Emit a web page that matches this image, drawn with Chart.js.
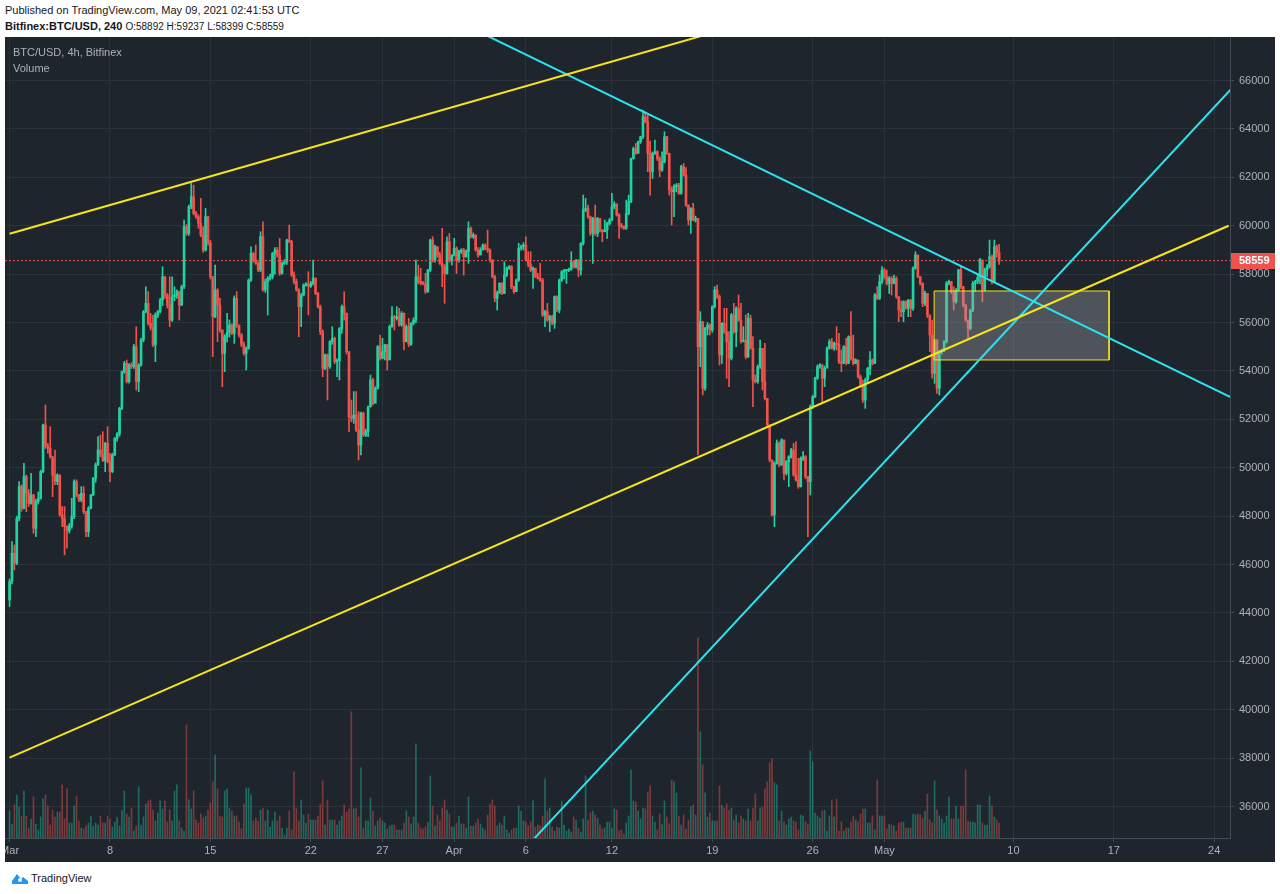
<!DOCTYPE html>
<html>
<head>
<meta charset="utf-8">
<title>BTC/USD 4h</title>
<script src="https://cdn.jsdelivr.net/npm/chart.js@4.4.0/dist/chart.umd.min.js"></script>
<style>
	html, body { margin: 0; padding: 0; background: #fff; }
	body { width: 1280px; height: 894px; position: relative; overflow: hidden; font-family: "Liberation Sans", Arial, sans-serif; color: #131722; }
	.hdr { position: absolute; left: 5px; font-size: 11px; line-height: 14px; white-space: nowrap; }
	.hdr--1 { top: 3px; }
	.hdr--2 { top: 19px; }
	.hdr--2 span { font-size: 10px; }
	.panel { position: absolute; left: 5px; top: 37px; width: 1270px; height: 825px; background: #1e252d; }
	.panel canvas { position: absolute; left: 0; top: 0; }
	.legend { position: absolute; left: 8px; top: 7px; font-size: 11px; line-height: 16px; color: #aeb1b9; pointer-events: none; }
	.footer { position: absolute; left: 12px; top: 870px; font-size: 11px; line-height: 16px; display: flex; align-items: center; }
	.footer svg { margin-right: 3px; }
</style>
</head>
<body>
<div class="hdr hdr--1">Published on TradingView.com, May 09, 2021 02:41:53 UTC</div>
<div class="hdr hdr--2"><b>Bitfinex:BTC/USD, 240</b> <span>O:58892 H:59237 L:58399 C:58559</span></div>
<div class="panel">
	<canvas id="chart__btc" width="1270" height="825"></canvas>
	<div class="legend">BTC/USD, 4h, Bitfinex<br>Volume</div>
</div>
<div class="footer">
	<svg width="16" height="12" viewBox="0 0 16 12"><path d="M0 9 L5 2 L9 7 L11 5 L16 9 L16 12 L0 12 Z" fill="#2196f3"/><circle cx="8" cy="8" r="2" fill="#fff"/></svg>
	<span>TradingView</span>
</div>
<script>
// 4h candles, Bitfinex BTC/USD, first bar Mar 01 00:00 UTC, last bar May 09 00:00 UTC
const firstOpen = 44537;
const closes = [
	45295,46465,46052,47910,49219,48324,49633,48944,48530,48875,
	47498,48600,48737,49839,51767,50872,50800,50458,49701,49426,
	49701,48049,47900,47567,47400,47600,47980,49426,48875,48668,
	48944,48186,47360,48324,48875,49564,50114,50734,50527,50300,
	51009,50252,49839,50527,51216,51400,52455,53971,54315,53557,
	54246,54177,55003,53557,54246,55279,56449,56793,55967,55800,
	55072,56311,56449,56930,57894,57137,56724,56104,57068,57137,
	57275,56724,57481,59960,59685,60786,61199,60510,60373,60100,
	59616,58996,60373,59300,57894,56242,57344,56724,55691,54727,
	55415,55600,55898,55553,57000,55898,55485,55100,54727,54934,
	57757,58858,58582,58445,58170,59547,57344,57688,57826,57900,
	58858,58996,58790,58032,58445,58514,59409,59340,57963,57700,
	57344,56655,57137,57550,57600,57500,57619,57826,57206,56655,
	55622,54108,54658,54177,55209,55350,54383,54420,55760,56655,
	56380,54796,52111,52042,52180,51560,50940,52249,51353,51500,
	52524,53626,52662,53282,55003,54521,54796,55072,54452,55829,
	56242,56173,56242,55898,56380,55209,55829,55100,55967,56100,
	57894,57688,57619,57600,57275,58170,59409,58582,59134,58790,
	58445,58300,58032,59340,58582,58790,59065,58582,58927,58996,
	58721,58927,59891,59547,59616,58996,58790,59000,59203,59065,
	58996,58582,57894,57000,57206,57619,57206,57963,58239,58308,
	57481,57275,57756,59064,59133,59202,58582,58400,58169,58238,
	57894,57825,57756,56310,56448,56104,56241,55966,57068,56517,
	57756,58100,58150,58169,58200,58513,58300,58582,58169,59271,
	60648,60717,60372,59684,60304,59684,60304,59821,59753,59821,
	60097,60235,60786,60900,60441,60028,59959,59890,60510,60992,
	62782,63195,62989,63471,63677,64503,64297,62989,62231,62989,
	63058,62782,62300,62644,63677,62989,61474,61404,61612,61681,
	61336,62438,62095,60855,60235,60718,60235,60304,55004,56036,
	53282,55761,55900,55692,56656,57345,57069,54659,55968,55623,
	55210,54522,56312,55623,56587,56105,55210,55279,54590,56174,
	54935,53627,53558,54177,54935,53558,52869,51768,50322,48050,
	50184,51010,50115,51148,49771,50253,50460,50735,49702,49496,
	49220,50391,50460,49633,49427,52525,52938,53696,54177,54250,
	53696,54109,54935,55210,54935,55141,55100,54384,54315,55003,
	54315,55416,54521,54315,54453,53764,53420,52800,53627,54109,
	54453,54315,57138,57000,57689,58171,57900,57620,57826,57620,
	57826,57069,56518,56449,56862,56587,56931,56587,58239,58790,
	57895,57620,56794,57207,56312,55485,53900,55279,53282,54797,
	54866,55210,57620,57689,57276,56862,57344,58171,57482,56725,
	56105,55761,56518,57620,57700,57850,58584,57344,58171,58308,
	58721,57689,59134,58892,58559
];
const highs = [
	45400,46945,46808,48000,49426,49300,50183,49700,49100,49770,
	48900,48700,49000,49900,51800,52593,51000,51698,50458,50734,
	49750,49700,48400,48392,47600,47700,48737,49500,49500,48900,
	49219,49219,48200,48400,48900,49600,50200,51285,51353,51491,
	51050,51698,50600,50600,51250,51450,52500,54000,54400,54452,
	54300,54350,55100,55829,54300,55350,56500,57481,57275,56380,
	56311,56400,56500,57000,58308,57900,57206,57894,57894,57481,
	57350,57300,57550,60235,60050,60855,61750,61681,60600,60450,
	61130,59960,60717,60400,59400,57900,58376,57400,57000,55700,
	55500,56380,56104,55950,57100,57275,55900,55550,55200,55000,
	57800,59134,58900,59203,58500,59753,60167,57800,57900,58000,
	58900,59100,59100,59478,58500,58600,59450,60029,59400,58100,
	57800,57400,57200,57600,57650,58101,57700,58582,57850,57250,
	56724,55700,54700,54700,55250,55829,55400,54500,55800,56724,
	57275,56400,54800,52800,53144,53144,52318,52300,52300,51600,
	52550,53832,53700,53350,55050,55485,55347,55100,55100,55900,
	56655,56300,56655,56586,56450,56400,55900,56173,56000,56200,
	58582,58376,58239,57700,58032,58200,59450,59547,59200,59150,
	58900,59891,58400,59547,59685,58800,59478,59134,58996,59050,
	59065,59000,60167,59950,59700,59620,59100,59100,59250,59250,
	59822,59050,58600,57950,57300,57650,57650,58514,58300,58350,
	58350,57500,57800,59271,59200,59300,59546,58927,58927,58300,
	58250,58032,58445,57825,56500,56792,56300,56300,57100,57100,
	57800,58150,58200,58200,58250,58927,58550,58600,58600,59300,
	61267,61130,60854,60400,60350,60854,60350,59959,59850,60235,
	60150,60300,61336,61000,60900,60500,60100,60000,61061,61267,
	62800,63250,63402,63500,63700,64779,64710,64572,63500,63050,
	63540,63100,62850,63058,63884,63700,63000,61612,61700,61750,
	61749,62500,62576,62400,60855,60750,60925,60400,60304,56450,
	56036,55800,56000,55950,56700,57482,57551,57138,56000,56587,
	56587,55623,56381,56794,56650,57138,56794,55830,56312,56381,
	56312,55417,53833,54250,55279,54797,55141,52869,51768,50322,
	50250,51148,51079,51200,51148,50300,50500,50804,51010,51079,
	50391,50450,50666,50500,49650,52600,53000,53750,54250,54300,
	54250,54200,55000,55300,55348,55200,55830,55554,54866,55050,
	55348,55450,56449,55485,54500,54453,53833,53627,53700,54150,
	54797,54500,57200,57482,57964,58308,58250,58171,57900,57900,
	57964,57895,57069,56900,56900,56900,56950,56950,58300,58928,
	58790,57900,57650,57300,57207,56312,56105,55300,55300,54850,
	54900,55250,57700,57750,57700,57482,57400,58200,58308,57500,
	56750,56105,56550,57700,57750,57950,58650,58584,58250,58400,
	59410,58790,59410,59200,59237
];
const lows = [
	44262,45200,45775,46000,47800,48200,48300,48186,48400,48500,
	47292,47154,48500,48700,49800,50800,50600,50400,48806,49300,
	49300,48000,47567,46397,46672,47300,47500,47900,48800,48600,
	48600,48100,47154,47154,48300,48850,49400,50100,50450,50250,
	49839,50200,49426,49800,50500,51100,51300,52400,53900,53500,
	53500,54100,54100,53213,53144,54200,55200,56400,55900,55700,
	55000,54384,56200,56400,56700,57000,56600,55829,56050,56900,
	57000,56104,56700,57400,59600,59600,60700,60450,60300,59900,
	59550,58900,58950,59200,57800,54590,56200,55209,55600,53350,
	53970,55200,55400,55500,55140,55800,55400,55000,54650,54039,
	54900,57700,58500,58400,58100,58100,57300,57250,56311,57750,
	57800,58000,58700,57950,58000,58400,58400,59300,57900,57600,
	57300,55415,55829,57100,57500,56311,57450,57550,57150,56600,
	55500,53763,54050,52800,54100,55100,54300,53763,53626,55553,
	56104,54700,51491,51900,51835,51500,50321,50527,51300,51285,
	51285,52500,52600,52937,53250,54450,54500,54452,54039,54950,
	55800,55691,56100,55850,55850,54865,55200,55003,55050,55900,
	56000,57600,57550,57550,57200,57250,58100,58500,58500,58700,
	58400,57481,56793,58000,58500,58376,58750,58032,58500,58850,
	57963,58700,58445,59500,59478,58950,58700,58800,59000,59000,
	58900,58500,57850,56862,56518,57550,57150,57200,57900,58200,
	57400,57200,57274,57700,58995,58995,58550,58300,58100,57412,
	57850,57800,57700,56241,55828,56050,55622,55900,55759,56450,
	56400,57700,57800,57619,58100,58150,58250,58250,57894,57963,
	59200,60579,60300,59600,58445,59600,59546,59750,59340,59750,
	59477,60028,60200,60700,60400,59477,59900,59850,59850,60450,
	60950,62750,62950,63150,63400,63600,64250,62231,61267,61956,
	62950,62700,62025,62250,62600,62950,61267,60028,60372,61400,
	61300,61300,62050,60800,60028,59685,60200,60150,50528,54177,
	53007,53200,55486,55486,55600,56600,57000,54246,54315,55550,
	53696,53351,54453,55550,55004,56050,55150,55200,54500,54550,
	54900,52525,53500,53489,54100,53214,52800,51700,50250,48000,
	47568,50150,50050,50100,49496,49700,49220,50400,49650,49450,
	49150,49200,50300,49550,47155,48876,52450,52900,53650,54109,
	52732,53351,54246,54900,54900,54850,54866,54300,53971,54300,
	54250,54300,54450,54250,54300,53700,53350,52700,52456,53489,
	53833,54250,54300,56950,56950,57600,57800,57550,57207,57138,
	57600,57000,56036,56243,56036,56550,56243,56243,56500,58200,
	57850,57550,56656,56700,56200,54797,53700,53489,53076,53007,
	54700,54800,55150,57550,57200,56518,56800,57300,57400,56650,
	56050,55348,55700,56450,57276,57600,57600,56862,57300,57895,
	58250,57600,57650,58700,58399
];
const volumes = [
	1350,700,1650,2150,1550,1100,2350,1100,500,
	950,2050,700,400,1050,1950,2150,1600,650,1400,
	1050,1300,1300,2650,950,2450,750,750,1600,2100,
	850,500,450,600,750,1100,600,750,650,1100,
	750,750,1100,950,550,800,1050,600,1400,2350,
	1200,1050,1500,350,600,2550,650,1050,1700,1850,
	1900,1400,850,1250,1850,1450,1850,800,1400,850,
	2350,2650,850,500,350,5650,1900,1450,2350,900,
	750,1200,1000,1100,1400,1750,2800,4150,2450,1100,
	1050,2350,2450,1500,1350,1100,1100,800,450,1700,
	2500,2500,2150,850,1000,850,1400,1500,850,1400,
	550,850,1300,850,1100,500,150,500,1350,400,
	3300,1500,850,1900,1150,750,1200,900,900,900,
	1100,1700,2850,650,1900,900,900,900,650,850,
	1100,1650,1300,1450,6300,1450,1500,1050,3500,500,
	850,850,2000,1350,600,850,1000,850,750,450,
	600,650,650,400,400,400,750,1350,1050,700,
	1050,4700,750,500,450,550,800,3100,1600,600,
	1150,850,1500,1900,1400,1200,550,550,750,1100,
	700,700,500,2050,600,600,750,950,700,500,
	400,1150,1700,1900,1600,600,750,
	650,1100,400,250,400,500,500,1600,1350,850,
	800,600,800,1850,550,650,600,1100,2950,1350,
	1500,550,350,550,500,1850,650,350,450,300,
	1050,900,500,300,950,3100,900,1250,1350,1150,
	1000,650,450,500,800,800,500,1450,1400,350,
	400,200,750,1100,3400,1850,1800,1350,950,1500,
	1450,2300,2600,1100,800,400,1200,700,1850,1050,
	700,2900,2800,2250,1100,650,1150,450,900,1550,
	1650,1150,10000,5300,3650,2250,1050,1250,850,850,
	850,2600,1650,1500,1700,1400,1500,900,1150,750,
	1100,950,850,1450,850,1500,2200,850,1500,1550,
	2450,2800,3750,3950,2750,2650,850,1350,800,650,
	950,1050,850,800,400,1150,1100,800,700,4350,
	3800,1250,1100,1000,1350,1400,350,1100,1900,1050,
	1950,350,800,350,500,500,800,1100,900,800,
	1200,1450,1450,750,750,1100,400,2900,1100,1100,
	1100,450,700,650,600,350,750,800,800,500,
	500,500,1200,1150,1200,1150,1000,1350,2200,900,
	750,2850,1400,1100,950,750,1100,2050,950,950,
	1600,950,1600,1600,3400,850,800,800,750,1650,
	1650,750,650,650,2100,1600,1050,900,750
];

// Axis ticks: days counted from Mar 01 00:00 UTC
const tickDays = [0, 7, 14, 21, 26, 31, 36, 42, 49, 56, 61, 70, 77, 84];
const tickLabels = ["Mar", "8", "15", "22", "27", "Apr", "6", "12", "19", "26", "May", "10", "17", "24"];
const priceTicks = [36000, 38000, 40000, 42000, 44000, 46000, 48000, 50000, 52000, 54000, 56000, 58000, 60000, 62000, 64000, 66000];

// Drawings: [day, price] pairs
const channelTop = [[0, 59670], [85, 74070]];
const channelBottom = [[0, 38018], [85, 60000]];
const cyanFalling = [[30, 68802], [86, 52669]];
const cyanRising = [[36, 34305], [86, 66170]];
const boxDays = [64.47, 76.67];
const boxPrices = [54454, 57304];

const COLORS = {
	up: "#22d3a2",
	down: "#f0534b",
	upVol: "rgba(34, 190, 160, 0.45)",
	downVol: "rgba(240, 83, 75, 0.45)",
	yellow: "#f7e51b",
	cyan: "#2de2f0",
	grid: "#2a323b",
	axis: "#454b55",
	text: "#aeb1b9",
	last: "#ef5350",
};

const X_MIN = -0.32;
const X_MAX = 85.1;

document.addEventListener("DOMContentLoaded", () => {
	initChart();
});

// Build the candle rows
const getCandles = () => {
	const opens = closes.map((_, i) => (i === 0 ? firstOpen : closes[i - 1]));
	return closes.map((c, i) => ({
		day: i / 6,
		open: opens[i],
		high: highs[i],
		low: lows[i],
		close: c,
		up: c >= opens[i],
	}));
};

const toPoints = (pairs) => pairs.map(([x, y]) => ({ x, y }));

// Keep tick labels from pushing the plot area inward
const clearScalePadding = (scale) => {
	scale.paddingTop = 0;
	scale.paddingBottom = 0;
	scale.paddingLeft = 0;
	scale.paddingRight = 0;
};

// Price tag on the right axis
const lastPricePlugin = {
	id: "lastPrice",
	afterDraw: (chart) => {
		const { ctx, chartArea, scales } = chart;
		const last = closes[closes.length - 1];
		const y = Math.round(scales.y.getPixelForValue(last));
		ctx.save();
		ctx.fillStyle = COLORS.last;
		ctx.fillRect(chartArea.right + 1, y - 8, 44, 16);
		ctx.fillStyle = "#ffffff";
		ctx.font = "bold 11px 'Liberation Sans', Arial, sans-serif";
		ctx.textBaseline = "middle";
		ctx.textAlign = "left";
		ctx.fillText(String(last), chartArea.right + 9, y);
		ctx.restore();
	},
};

const getDatasets = (candles) => {
	const last = closes[closes.length - 1];
	return [
		{
			label: "volume",
			type: "bar",
			yAxisID: "vol",
			data: candles.map((c, i) => ({ x: c.day, y: volumes[i] })),
			backgroundColor: candles.map((c) => (c.up ? COLORS.upVol : COLORS.downVol)),
			barThickness: 1,
			grouped: false,
			order: 10,
		},
		{
			label: "wicks",
			type: "bar",
			data: candles.map((c) => ({ x: c.day, y: [c.low, c.high] })),
			backgroundColor: candles.map((c) => (c.up ? COLORS.up : COLORS.down)),
			barThickness: 1,
			grouped: false,
			order: 6,
		},
		{
			label: "bodies",
			type: "bar",
			data: candles.map((c) => ({ x: c.day, y: [c.open, c.close] })),
			backgroundColor: candles.map((c) => (c.up ? COLORS.up : COLORS.down)),
			barThickness: 2,
			minBarLength: 1,
			grouped: false,
			order: 5,
		},
		{
			label: "box fill",
			type: "line",
			data: [
				{ x: boxDays[0], y: boxPrices[1] },
				{ x: boxDays[1], y: boxPrices[1] },
			],
			borderWidth: 0,
			pointRadius: 0,
			fill: { value: boxPrices[0] },
			backgroundColor: "rgba(165, 170, 176, 0.36)",
			order: 4,
		},
		{
			label: "box edge",
			type: "line",
			data: [
				{ x: boxDays[0], y: boxPrices[1] },
				{ x: boxDays[1], y: boxPrices[1] },
				{ x: boxDays[1], y: boxPrices[0] },
				{ x: boxDays[0], y: boxPrices[0] },
				{ x: boxDays[0], y: boxPrices[1] },
			],
			borderColor: COLORS.yellow,
			borderWidth: 1,
			pointRadius: 0,
			fill: false,
			order: 3,
		},
		{
			label: "last price",
			type: "line",
			data: [
				{ x: X_MIN, y: last },
				{ x: X_MAX, y: last },
			],
			borderColor: COLORS.last,
			borderWidth: 1,
			borderDash: [2, 2],
			pointRadius: 0,
			order: 2,
		},
		...[
			[channelTop, COLORS.yellow],
			[channelBottom, COLORS.yellow],
			[cyanFalling, COLORS.cyan],
			[cyanRising, COLORS.cyan],
		].map(([pairs, color]) => ({
			label: "trend",
			type: "line",
			data: toPoints(pairs),
			borderColor: color,
			borderWidth: 2,
			pointRadius: 0,
			fill: false,
			order: 1,
		})),
	];
};

const getOptions = () => ({
	responsive: false,
	animation: false,
	devicePixelRatio: 1,
	events: [],
	layout: { padding: 0, autoPadding: false },
	plugins: {
		legend: { display: false },
		tooltip: { enabled: false },
	},
	scales: {
		x: {
			type: "linear",
			offset: false,
			min: X_MIN,
			max: X_MAX,
			afterBuildTicks: (scale) => {
				scale.ticks = tickDays.map((v) => ({ value: v }));
			},
			afterFit: (scale) => {
				scale.height = 24;
				clearScalePadding(scale);
			},
			ticks: {
				autoSkip: false,
				maxRotation: 0,
				padding: 2,
				color: COLORS.text,
				font: { size: 11 },
				callback: (value) => tickLabels[tickDays.indexOf(value)] ?? "",
			},
			grid: { offset: false, color: COLORS.grid, tickColor: COLORS.axis, tickLength: 4 },
			border: { color: COLORS.axis },
		},
		y: {
			position: "right",
			min: 34700,
			max: 67800,
			afterBuildTicks: (scale) => {
				scale.ticks = priceTicks.map((v) => ({ value: v }));
			},
			afterFit: (scale) => {
				scale.width = 45;
				clearScalePadding(scale);
			},
			ticks: {
				padding: 5,
				color: COLORS.text,
				font: { size: 11 },
				callback: (value) => String(value),
			},
			grid: { color: COLORS.grid, tickColor: COLORS.axis, tickLength: 4 },
			border: { color: COLORS.axis },
		},
		vol: {
			axis: "y",
			position: "left",
			display: false,
			min: 0,
			max: 40000,
			afterFit: (scale) => {
				scale.width = 0;
				clearScalePadding(scale);
			},
		},
	},
});

const initChart = () => {
	const ctx = document.getElementById("chart__btc");
	if (!ctx) return;
	Chart.defaults.font.family = "'Liberation Sans', Arial, sans-serif";
	const candles = getCandles();
	// eslint-disable-next-line no-undef
	new Chart(ctx, {
		type: "bar",
		data: { datasets: getDatasets(candles) },
		options: getOptions(),
		plugins: [lastPricePlugin],
	});
};
</script>
</body>
</html>
